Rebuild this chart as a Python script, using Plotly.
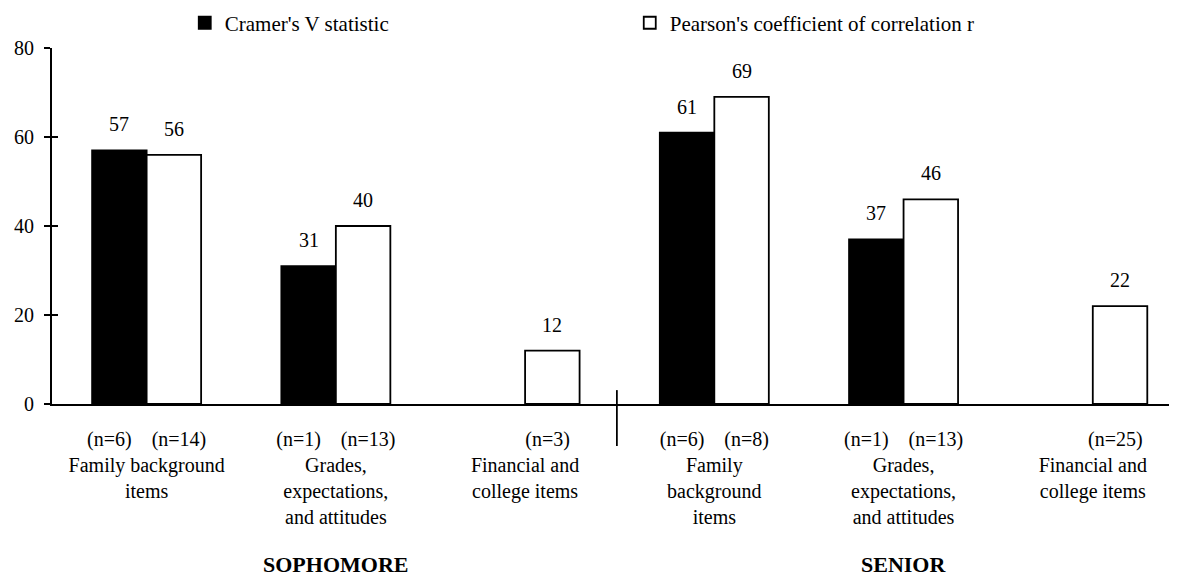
import plotly.graph_objects as go

# ---- data ----
category_lines = [
    ["Family background", "items"],
    ["Grades,", "expectations,", "and attitudes"],
    ["Financial and", "college items"],
    ["Family", "background", "items"],
    ["Grades,", "expectations,", "and attitudes"],
    ["Financial and", "college items"],
]
cramer_v = [57, 31, None, 61, 37, None]
pearson_r = [56, 40, 12, 69, 46, 22]
n_cramer = [6, 1, None, 6, 1, None]
n_pearson = [14, 13, 3, 8, 13, 25]
group_names = ["SOPHOMORE", "SENIOR"]
group_center_index = [1, 4]
y_ticks = [0, 20, 40, 60, 80]
series_names = ["Cramer's V statistic", "Pearson's coefficient of correlation r"]

# ---- style ----
FONT = "Liberation Serif"
FS = 20
LW = 1.8
NB = "\u00a0"
BARGAP = 0.424
HALF = (1 - BARGAP) / 4  # half width of one bar in category units

xs = list(range(len(category_lines)))

ticktext = []
for nc, npr, lines in zip(n_cramer, n_pearson, category_lines):
    if nc is None:
        first = NB * 9 + f"(n={npr})"
    else:
        first = f"(n={nc})" + NB * 4 + f"(n={npr})"
    ticktext.append("<br>".join([first] + lines))

fig = go.Figure()
fig.add_trace(go.Bar(
    x=xs, y=cramer_v, name=series_names[0],
    marker=dict(color="black", line=dict(color="black", width=LW)),
    hoverinfo="skip",
))
fig.add_trace(go.Bar(
    x=xs, y=pearson_r, name=series_names[1],
    marker=dict(color="white", line=dict(color="black", width=LW)),
    hoverinfo="skip",
))
# helper trace for the inner half of the cross ticks on the y axis
fig.add_trace(go.Scatter(x=[None], y=[None], yaxis="y2", showlegend=False, hoverinfo="skip"))

annotations = []
for i, v in enumerate(cramer_v):
    if v is not None:
        annotations.append(dict(x=i - HALF, y=v, text=str(v), showarrow=False,
                                yanchor="middle", yshift=26, font=dict(size=FS)))
for i, v in enumerate(pearson_r):
    if v is not None:
        annotations.append(dict(x=i + HALF, y=v, text=str(v), showarrow=False,
                                yanchor="middle", yshift=26, font=dict(size=FS)))
for name, ci in zip(group_names, group_center_index):
    annotations.append(dict(x=ci, xref="x", y=-0.452, yref="paper", text=f"<b>{name}</b>",
                            showarrow=False, yanchor="middle", font=dict(size=22)))

mid = (len(category_lines) - 1) / 2 - 0.015
fig.update_layout(
    width=1177, height=578,
    margin=dict(l=44, r=8, t=40, b=182, autoexpand=False),
    paper_bgcolor="white", plot_bgcolor="white",
    font=dict(family=FONT, size=FS, color="black"),
    barmode="group", bargap=BARGAP, bargroupgap=0,
    showlegend=True,
    legend=dict(orientation="h", x=0.118, xanchor="left", y=1.070, yanchor="middle",
                entrywidth=400, entrywidthmode="pixels", font=dict(size=21),
                bgcolor="rgba(0,0,0,0)", traceorder="normal"),
    xaxis=dict(range=[-0.5, 5.445], tickmode="array", tickvals=xs, ticktext=ticktext,
               ticks="", showline=True, linecolor="black", linewidth=LW,
               ticklabelstandoff=16, automargin=False,
               showgrid=False, zeroline=False, fixedrange=True),
    yaxis=dict(range=[0, 80], tickmode="array", tickvals=y_ticks, ticks="outside",
               ticklen=6, tickwidth=LW, tickcolor="black", showline=True,
               ticklabelstandoff=6, automargin=False,
               linecolor="black", linewidth=LW, showgrid=False, zeroline=False),
    yaxis2=dict(range=[0, 80], overlaying="y", side="left", anchor="x", tickmode="array",
                tickvals=y_ticks, ticks="inside", ticklen=6, tickwidth=LW,
                tickcolor="black", showticklabels=False, showline=False,
                automargin=False, showgrid=False, zeroline=False),
    shapes=[dict(type="line", xref="x", yref="paper", x0=mid, x1=mid,
                 y0=0.039, y1=-0.118, line=dict(color="black", width=LW))],
    annotations=annotations,
)

fig.write_html("out.html")
